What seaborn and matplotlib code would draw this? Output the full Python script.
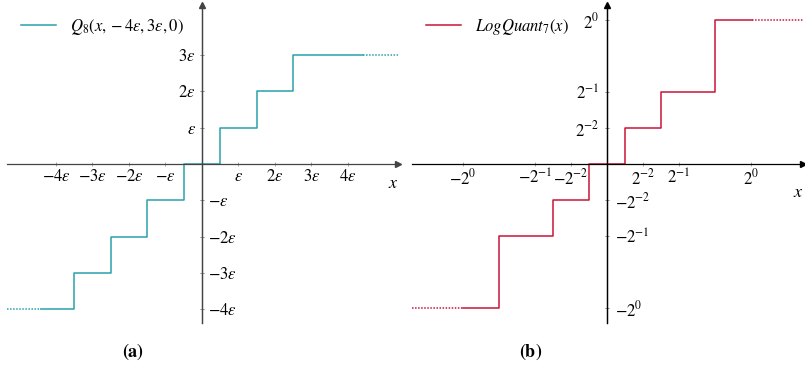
import matplotlib
matplotlib.use("Agg")
import matplotlib.pyplot as plt
import seaborn as sns
import numpy as np

# ---------------- data ----------------
# (a) uniform quantiser Q_8(x, -4eps, 3eps, 0), in units of eps
q_edges = [-4.42, -3.5, -2.5, -1.5, -0.5, 0.5, 1.5, 2.5, 4.42]
q_levels = [-4, -3, -2, -1, 0, 1, 2, 3, 3]
q_tail_left_x = [-5.34, -4.42]
q_tail_left_y = [-4, -4]
q_tail_right_x = [4.42, 5.45]
q_tail_right_y = [3, 3]
q_xticks = [-4, -3, -2, -1, 1, 2, 3, 4]
q_xticklabels = [r"$-4\varepsilon$", r"$-3\varepsilon$", r"$-2\varepsilon$", r"$-\varepsilon$",
                 r"$\varepsilon$", r"$2\varepsilon$", r"$3\varepsilon$", r"$4\varepsilon$"]
q_yticks = [3, 2, 1, -1, -2, -3, -4]
q_yticklabels = [r"$3\varepsilon$", r"$2\varepsilon$", r"$\varepsilon$", r"$-\varepsilon$",
                 r"$-2\varepsilon$", r"$-3\varepsilon$", r"$-4\varepsilon$"]

# (b) LogQuant_7(x)
l_edges = [-1.0, -0.75, -0.375, -0.125, 0.125, 0.375, 0.75, 1.01]
l_levels = [-1, -0.5, -0.25, 0, 0.25, 0.5, 1, 1]
l_tail_left_x = [-1.354, -1.0]
l_tail_left_y = [-1, -1]
l_tail_right_x = [1.01, 1.37]
l_tail_right_y = [1, 1]
l_xticks = [-1, -0.5, -0.25, 0.25, 0.5, 1]
l_xticklabels = [r"$-2^{0}$", r"$-2^{-1}$", r"$-2^{-2}$", r"$2^{-2}$", r"$2^{-1}$", r"$2^{0}$"]
l_yticks = [1, 0.5, 0.25, -0.25, -0.5, -1]
l_yticklabels = [r"$2^{0}$", r"$2^{-1}$", r"$2^{-2}$", r"$-2^{-2}$", r"$-2^{-1}$", r"$-2^{0}$"]

TEAL = "#27a2aa"
RED = "#cc1438"

plt.rcParams["mathtext.fontset"] = "stix"
plt.rcParams["font.family"] = ["STIXGeneral", "DejaVu Serif"]

W, H = 805, 369
fig = plt.figure(figsize=(W / 100, H / 100), dpi=100)


def px_axes(x0, x1, ytop, ybot):
    return fig.add_axes([x0 / W, 1 - ybot / H, (x1 - x0) / W, (ybot - ytop) / H])


def style_axes(ax, xt, xtl, yt, ytl, axcol, ypad):
    for s in ["left", "right", "bottom"]:
        ax.spines[s].set_position(("data", 0))
        ax.spines[s].set_color(axcol)
        ax.spines[s].set_linewidth(0.9)
        ax.spines[s].set_zorder(6)
    ax.spines["top"].set_visible(False)
    ax.xaxis.set_ticks_position("bottom")
    ax.yaxis.set_ticks_position("both")
    ax.set_xticks(xt, xtl)
    ax.set_yticks(yt, ytl)
    ax.tick_params(axis="both", direction="inout", length=3, width=0.6,
                   color="#999999", labelsize=12)
    ax.tick_params(axis="x", pad=2)
    ax.tick_params(axis="y", labelleft=True, labelright=True, pad=ypad)
    for t, v in zip(ax.yaxis.get_major_ticks(), yt):
        if v < 0:
            t.label1.set_visible(False)
        else:
            t.label2.set_visible(False)
    # arrows
    ax.plot(1, 0, marker=">", color=axcol, ms=4, transform=ax.get_yaxis_transform(),
            clip_on=False, zorder=7)
    ax.plot(0, 1, marker="^", color=axcol, ms=4, transform=ax.get_xaxis_transform(),
            clip_on=False, zorder=7)
    ax.set_xlabel("")
    ax.set_ylabel("")


# ---------- panel (a) ----------
axa = px_axes(7, 398, 5, 323)
sns.lineplot(x=q_edges, y=q_levels, drawstyle="steps-post", color=TEAL, lw=1.1,
             ax=axa, zorder=5, legend=False)
solid_a = axa.lines[-1]
sns.lineplot(x=q_tail_left_x, y=q_tail_left_y, color=TEAL, lw=1.1, ls=(0, (1, 1)),
             ax=axa, zorder=5, legend=False)
sns.lineplot(x=q_tail_right_x, y=q_tail_right_y, color=TEAL, lw=1.1, ls=(0, (1, 1)),
             ax=axa, zorder=5, legend=False)
axa.set_xlim(-5.34, 5.37)
axa.set_ylim(-4.38, 4.38)
style_axes(axa, q_xticks, q_xticklabels, q_yticks, q_yticklabels, "#444444", 3)
fig.text(393 / W, 1 - 184 / H, r"$x$", fontsize=13, ha="center", va="center")
axa.legend([solid_a], [r"$Q_8(x,-4\varepsilon,3\varepsilon,0)$"], loc="upper left",
           bbox_to_anchor=(21 / W, 1 - 17 / H), bbox_transform=fig.transFigure,
           frameon=False, fontsize=12, handlelength=2.1, handletextpad=0.85,
           borderpad=0, borderaxespad=0)

# ---------- panel (b) ----------
axb = px_axes(412, 803, 5, 323)
sns.lineplot(x=l_edges, y=l_levels, drawstyle="steps-post", color=RED, lw=1.1,
             ax=axb, zorder=5, legend=False)
solid_b = axb.lines[-1]
sns.lineplot(x=l_tail_left_x, y=l_tail_left_y, color=RED, lw=1.1, ls=(0, (1, 1)),
             ax=axb, zorder=5, legend=False)
sns.lineplot(x=l_tail_right_x, y=l_tail_right_y, color=RED, lw=1.1, ls=(0, (1, 1)),
             ax=axb, zorder=5, legend=False)
axb.set_xlim(-1.354, 1.361)
axb.set_ylim(-1.104, 1.104)
style_axes(axb, l_xticks, l_xticklabels, l_yticks, l_yticklabels, "black", 4)
fig.text(798 / W, 1 - 193 / H, r"$x$", fontsize=13, ha="center", va="center")
axb.legend([solid_b], [r"$LogQuant_7(x)$"], loc="upper left",
           bbox_to_anchor=(426 / W, 1 - 17 / H), bbox_transform=fig.transFigure,
           frameon=False, fontsize=12, handlelength=2.1, handletextpad=0.85,
           borderpad=0, borderaxespad=0)

# captions
fig.text(133 / W, 1 - 352 / H, r"$\mathbf{(a)}$", ha="center", va="center", fontsize=13)
fig.text(531 / W, 1 - 352 / H, r"$\mathbf{(b)}$", ha="center", va="center", fontsize=13)

fig.savefig("out.png", dpi=100)
